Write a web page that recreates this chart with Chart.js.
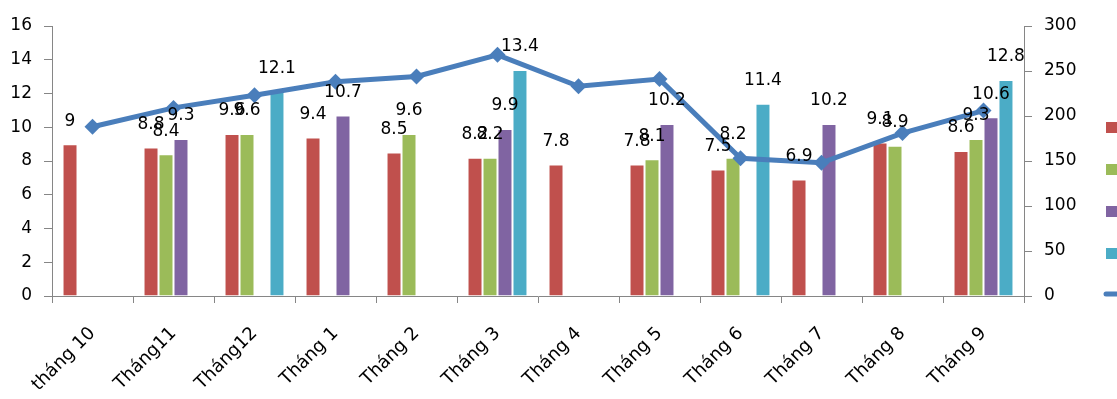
<!DOCTYPE html>
<html>
<head>
<meta charset="utf-8">
<script src="https://cdn.jsdelivr.net/npm/chart.js@4"></script>
<style>
  html, body { margin: 0; padding: 0; background: #ffffff; }
  canvas { display: block; }
</style>
</head>
<body>
<canvas id="chart" width="1117" height="399"></canvas>
<script>
// Categories (months)
const months = ['tháng 10', 'Tháng11', 'Tháng12', 'Tháng 1', 'Tháng 2', 'Tháng 3',
                'Tháng 4', 'Tháng 5', 'Tháng 6', 'Tháng 7', 'Tháng 8', 'Tháng 9'];

// Bar series (left axis)
const seriesRed    = [9, 8.8, 9.6, 9.4, 8.5, 8.2, 7.8, 7.8, 7.5, 6.9, 9.1, 8.6];
const seriesGreen  = [null, 8.4, 9.6, null, 9.6, 8.2, null, 8.1, 8.2, null, 8.9, 9.3];
const seriesPurple = [null, 9.3, null, 10.7, null, 9.9, null, 10.2, null, 10.2, null, 10.6];
const seriesCyan   = [null, null, 12.1, null, null, 13.4, null, null, 11.4, null, null, 12.8];

// Line series (right axis)
const lineValues = [188, 209, 223, 238, 244, 268, 233, 241, 153, 148, 181, 206];

// Axis ranges
const leftMax = 16, leftStep = 2;
const rightMax = 300, rightStep = 50;

const FONT = { family: "'DejaVu Sans', sans-serif", size: 17 };
const XFONT = { family: "'DejaVu Sans', sans-serif", size: 18 };
const AXIS_GRAY = '#868686';

// Value labels above each bar
const barLabels = {
  id: 'barLabels',
  afterDatasetsDraw(chart) {
    const ctx = chart.ctx;
    ctx.save();
    ctx.font = `${FONT.size}px ${FONT.family}`;
    ctx.fillStyle = '#000000';
    ctx.textAlign = 'center';
    ctx.textBaseline = 'middle';
    chart.data.datasets.forEach((ds, i) => {
      if (ds.type !== 'bar') return;
      const meta = chart.getDatasetMeta(i);
      meta.data.forEach((bar, j) => {
        const v = ds.data[j];
        if (v === null || v === undefined) return;
        ctx.fillText(String(v), bar.x, bar.y - 23);
      });
    });
    ctx.restore();
  }
};

// Legend swatches at the right edge
const sideLegend = {
  id: 'sideLegend',
  afterDraw(chart) {
    const ctx = chart.ctx;
    ctx.save();
    const x = 1106, y0 = 122, gap = 42, size = 11;
    chart.data.datasets.forEach((ds, i) => {
      const y = y0 + i * gap;
      if (ds.type === 'bar') {
        ctx.fillStyle = ds.backgroundColor;
        ctx.fillRect(x, y, size, size);
      } else {
        ctx.strokeStyle = ds.borderColor;
        ctx.lineWidth = 5;
        ctx.lineCap = 'round';
        ctx.beginPath();
        ctx.moveTo(x, y + 4);
        ctx.lineTo(1130, y + 4);
        ctx.stroke();
      }
    });
    ctx.restore();
  }
};

const barCommon = {
  type: 'bar',
  yAxisID: 'y',
  order: 2,
  barPercentage: 1.0,
  categoryPercentage: 0.74,
  borderWidth: 1,
  borderSkipped: 'bottom'
};

new Chart(document.getElementById('chart'), {
  data: {
    labels: months,
    datasets: [
      Object.assign({}, barCommon, { data: seriesRed,    backgroundColor: '#C0504D', borderColor: 'rgba(255,255,255,0.35)' }),
      Object.assign({}, barCommon, { data: seriesGreen,  backgroundColor: '#9BBB59', borderColor: 'rgba(255,255,255,0.35)' }),
      Object.assign({}, barCommon, { data: seriesPurple, backgroundColor: '#8064A2', borderColor: 'rgba(255,255,255,0.35)' }),
      Object.assign({}, barCommon, { data: seriesCyan,   backgroundColor: '#4BACC6', borderColor: 'rgba(255,255,255,0.35)' }),
      {
        type: 'line',
        yAxisID: 'y1',
        order: 1,
        data: lineValues,
        borderColor: '#4A7EBB',
        backgroundColor: '#4A7EBB',
        borderWidth: 5,
        pointStyle: 'rectRot',
        pointRadius: 8,
        pointBorderWidth: 0,
        pointBackgroundColor: '#4A7EBB',
        tension: 0,
        fill: false
      }
    ]
  },
  options: {
    responsive: false,
    animation: false,
    devicePixelRatio: 1,
    layout: { padding: { top: 26, left: 0, right: 0, bottom: 0 } },
    plugins: { legend: { display: false }, tooltip: { enabled: false } },
    scales: {
      x: {
        offset: true,
        grid: { display: true, drawOnChartArea: false, drawTicks: true, tickLength: 7, color: AXIS_GRAY, offset: true },
        border: { display: true, color: AXIS_GRAY, width: 1 },
        ticks: { color: '#000', font: XFONT, minRotation: 45, maxRotation: 45, padding: 20, autoSkip: false },
        afterFit(scale) { scale.height = 103; }
      },
      y: {
        position: 'left',
        min: 0, max: leftMax,
        grid: { display: true, drawOnChartArea: false, drawTicks: true, tickLength: 8, color: AXIS_GRAY },
        border: { display: true, color: AXIS_GRAY, width: 1 },
        ticks: { stepSize: leftStep, color: '#000', font: FONT, padding: 12 },
        afterFit(scale) { scale.width = 52; }
      },
      y1: {
        position: 'right',
        min: 0, max: rightMax,
        grid: { display: true, drawOnChartArea: false, drawTicks: true, tickLength: 8, color: AXIS_GRAY },
        border: { display: true, color: AXIS_GRAY, width: 1 },
        ticks: { stepSize: rightStep, color: '#000', font: FONT, padding: 12 },
        afterFit(scale) { scale.width = 93; }
      }
    }
  },
  plugins: [barLabels, sideLegend]
});
</script>
</body>
</html>
